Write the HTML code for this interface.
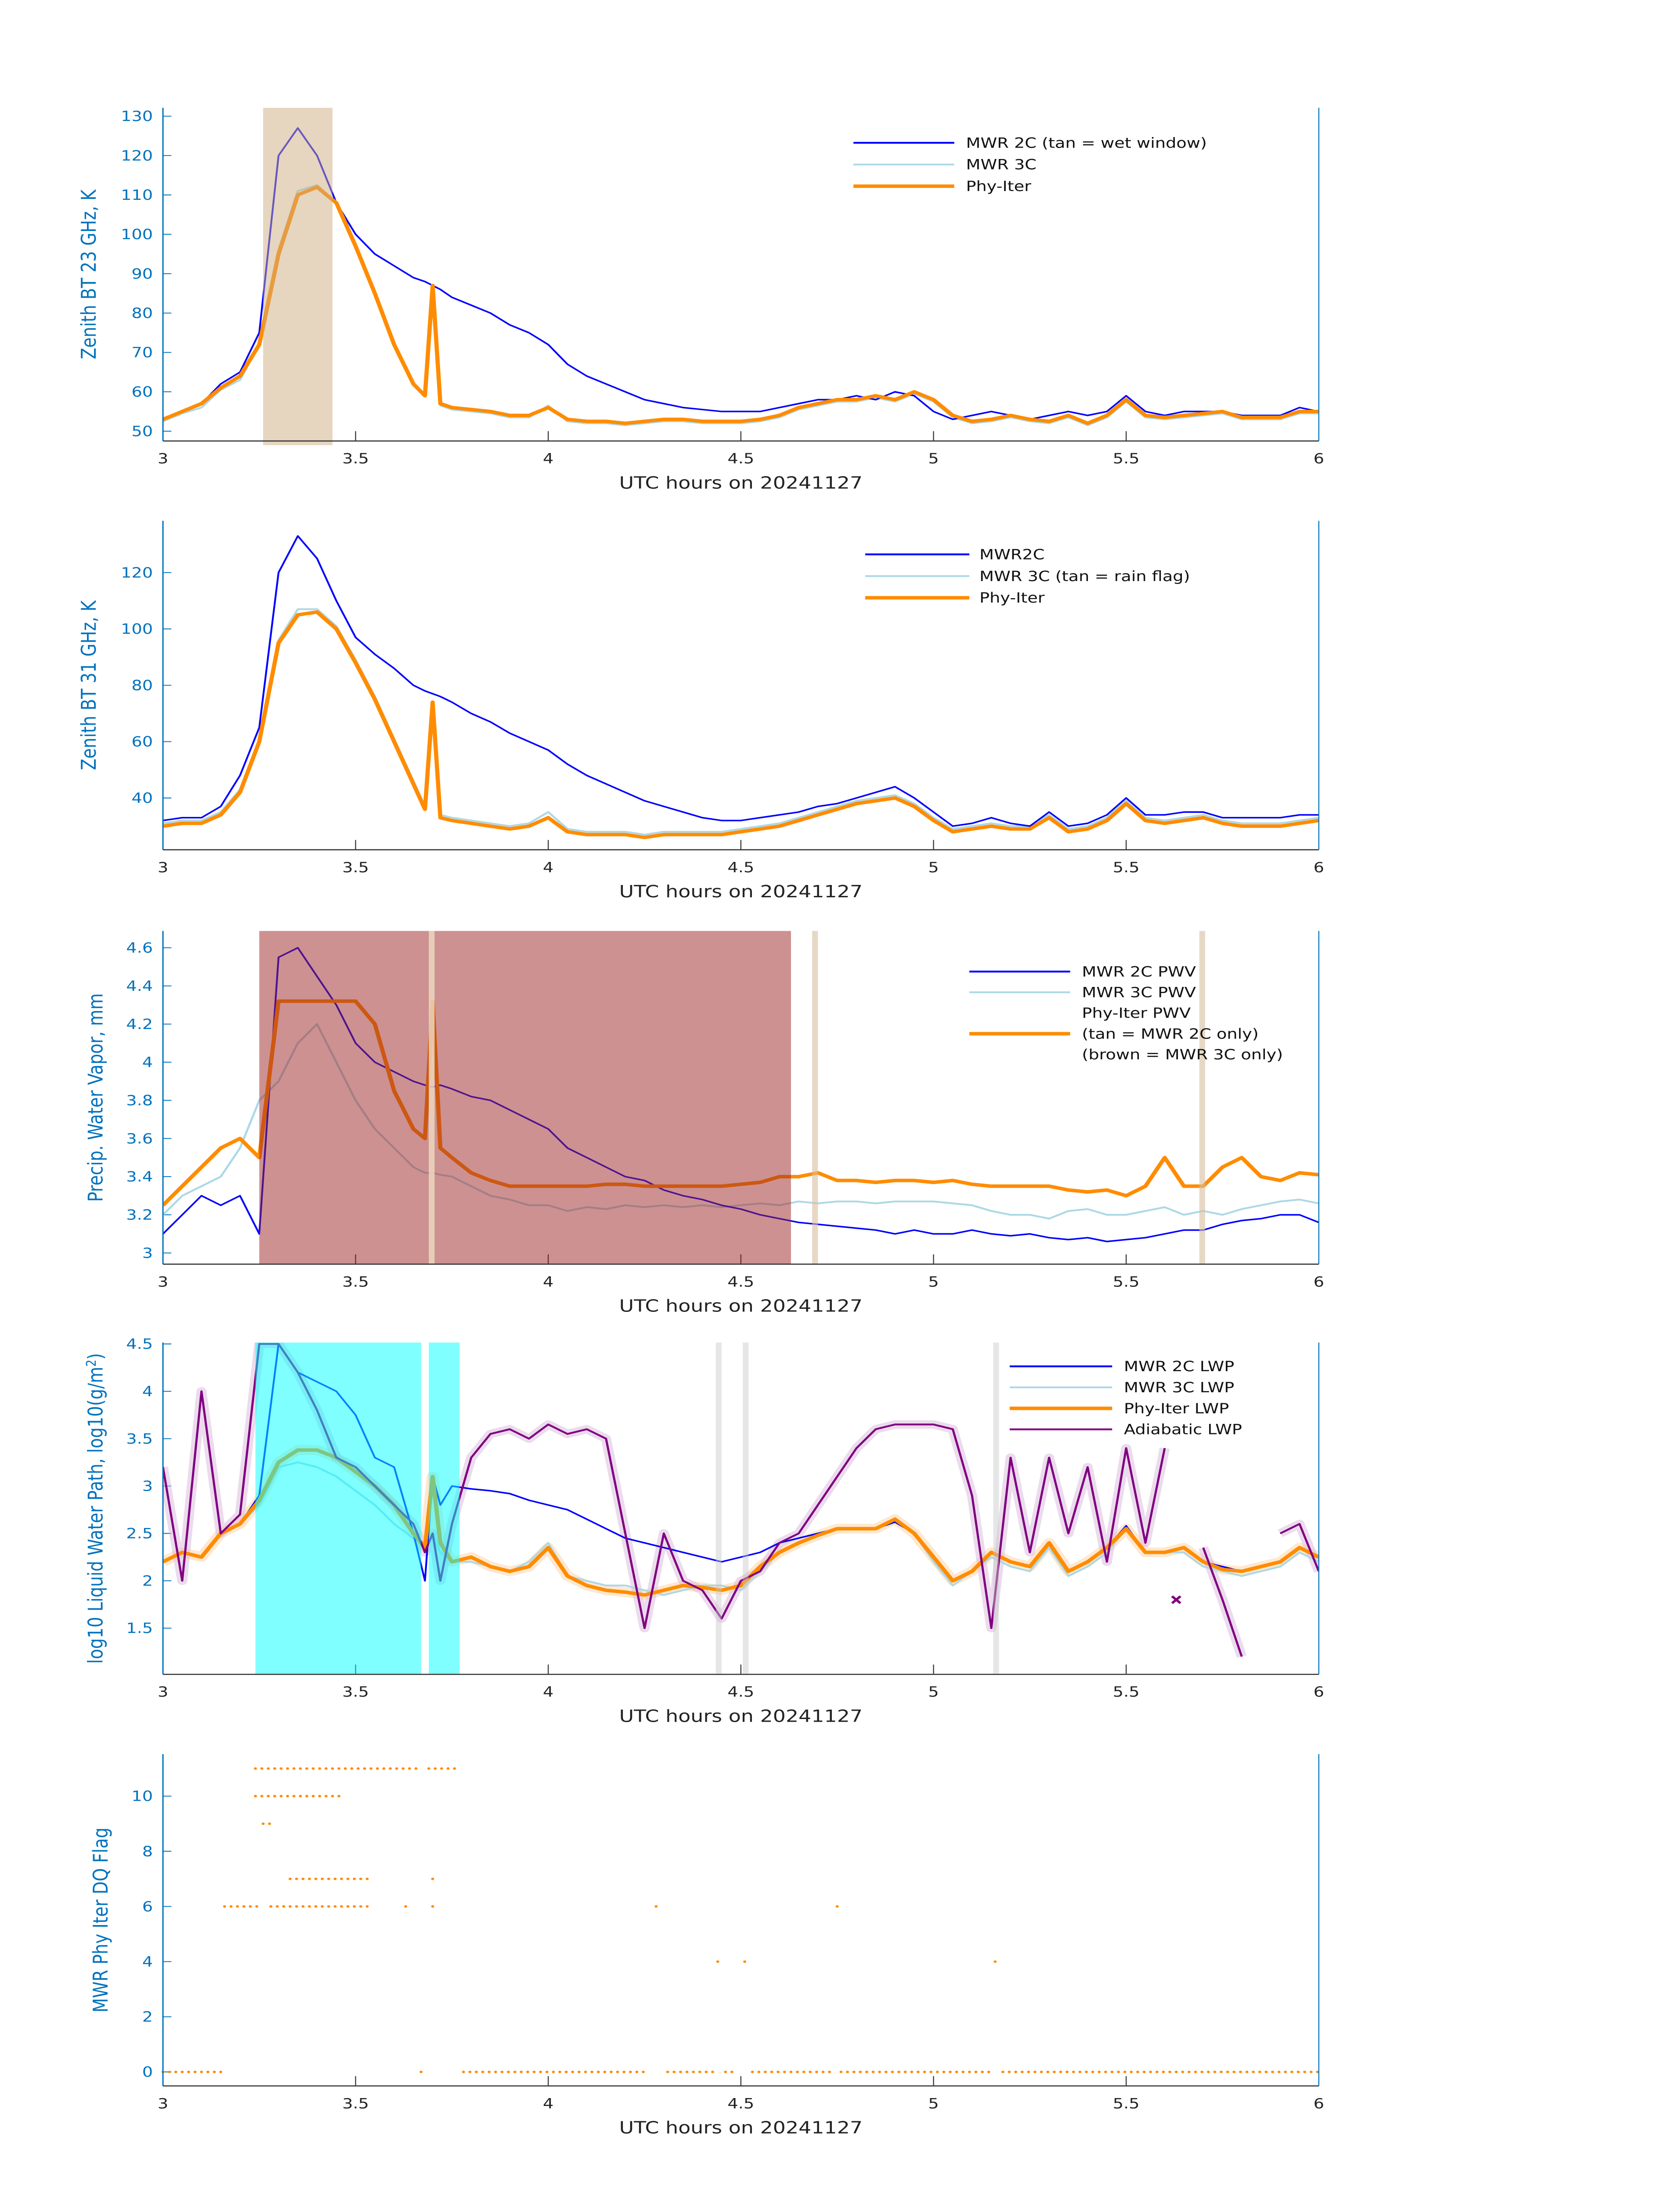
<!DOCTYPE html>
<html><head><meta charset="utf-8"><style>
html,body{margin:0;padding:0;background:#fff;width:100vw;height:100vh;overflow:hidden;}
svg{display:block;position:absolute;left:0;top:0;width:100vw;height:100vh;font-family:"DejaVu Sans","Liberation Sans",sans-serif;}
</style></head><body>
<svg id="fig" xmlns="http://www.w3.org/2000/svg" viewBox="0 0 1000 1568.63" preserveAspectRatio="none" overflow="hidden"></svg>
<script>
// ---- data ----
const T=[3.00,3.05,3.10,3.15,3.20,3.25,3.30,3.35,3.40,3.45,3.50,3.55,3.60,3.65,3.68,3.70,3.72,3.75,3.80,3.85,3.90,3.95,4.00,4.05,4.10,4.15,4.20,4.25,4.30,4.35,4.40,4.45,4.50,4.55,4.60,4.65,4.70,4.75,4.80,4.85,4.90,4.95,5.00,5.05,5.10,5.15,5.20,5.25,5.30,5.35,5.40,5.45,5.50,5.55,5.60,5.65,5.70,5.75,5.80,5.85,5.90,5.95,6.00];
const bt23_2c=[53,55,57,62,65,75,120,127,120,108,100,95,92,89,88,87,86,84,82,80,77,75,72,67,64,62,60,58,57,56,55.5,55,55,55,56,57,58,58,59,58,60,59,55,53,54,55,54,53,54,55,54,55,59,55,54,55,55,55,54,54,54,56,55];
const bt23_3c=[52.5,54.5,56,60.5,63,72,96,111,112.5,108,97,85,72,62,59,86,56.5,55.5,55,54.5,53.5,53.5,56.5,52.5,52,52,51.5,52,52.5,52.5,52,52,52,52.5,53.5,55.5,56.5,57.5,57.5,58.5,57.5,59.5,57.5,53.5,52,52.5,53.5,52.5,52,53.5,51.5,53.5,57.5,53.5,53,53.5,54,54.5,53,53,53,54.5,54.5];
const bt23_phy=[53,55,57,61,64,72,95,110,112,108,97,85,72,62,59,87,57,56,55.5,55,54,54,56,53,52.5,52.5,52,52.5,53,53,52.5,52.5,52.5,53,54,56,57,58,58,59,58,60,58,54,52.5,53,54,53,52.5,54,52,54,58,54,53.5,54,54.5,55,53.5,53.5,53.5,55,55];
const bt31_2c=[32,33,33,37,48,65,120,133,125,110,97,91,86,80,78,77,76,74,70,67,63,60,57,52,48,45,42,39,37,35,33,32,32,33,34,35,37,38,40,42,44,40,35,30,31,33,31,30,35,30,31,34,40,34,34,35,35,33,33,33,33,34,34];
const bt31_3c=[31,32,32,35,43,61,96,107,107,101,89,76,61,46,37,73,34,33,32,31,30,31,35,29,28,28,28,27,28,28,28,28,29,30,31,33,35,37,39,40,41,38,33,29,30,31,30,30,34,29,30,33,39,33,32,33,34,32,31,31,31,32,33];
const bt31_phy=[30,31,31,34,42,60,95,105,106,100,88,75,60,45,36,74,33,32,31,30,29,30,33,28,27,27,27,26,27,27,27,27,28,29,30,32,34,36,38,39,40,37,32,28,29,30,29,29,33,28,29,32,38,32,31,32,33,31,30,30,30,31,32];
const pwv_2c=[3.1,3.2,3.3,3.25,3.3,3.1,4.55,4.6,4.45,4.3,4.1,4.0,3.95,3.9,3.88,3.87,3.88,3.86,3.82,3.8,3.75,3.7,3.65,3.55,3.5,3.45,3.4,3.38,3.33,3.3,3.28,3.25,3.23,3.2,3.18,3.16,3.15,3.14,3.13,3.12,3.1,3.12,3.1,3.1,3.12,3.1,3.09,3.1,3.08,3.07,3.08,3.06,3.07,3.08,3.1,3.12,3.12,3.15,3.17,3.18,3.2,3.2,3.16];
const pwv_3c=[3.2,3.3,3.35,3.4,3.55,3.8,3.9,4.1,4.2,4.0,3.8,3.65,3.55,3.45,3.42,3.42,3.41,3.4,3.35,3.3,3.28,3.25,3.25,3.22,3.24,3.23,3.25,3.24,3.25,3.24,3.25,3.24,3.25,3.26,3.25,3.27,3.26,3.27,3.27,3.26,3.27,3.27,3.27,3.26,3.25,3.22,3.2,3.2,3.18,3.22,3.23,3.2,3.2,3.22,3.24,3.2,3.22,3.2,3.23,3.25,3.27,3.28,3.26];
const pwv_phy=[3.25,3.35,3.45,3.55,3.6,3.5,4.32,4.32,4.32,4.32,4.32,4.2,3.85,3.65,3.6,4.32,3.55,3.5,3.42,3.38,3.35,3.35,3.35,3.35,3.35,3.36,3.36,3.35,3.35,3.35,3.35,3.35,3.36,3.37,3.4,3.4,3.42,3.38,3.38,3.37,3.38,3.38,3.37,3.38,3.36,3.35,3.35,3.35,3.35,3.33,3.32,3.33,3.3,3.35,3.5,3.35,3.35,3.45,3.5,3.4,3.38,3.42,3.41];
const lwp_2c=[2.2,2.3,2.25,2.5,2.6,2.9,4.5,4.2,4.1,4.0,3.75,3.3,3.2,2.5,2.0,3.1,2.8,3.0,2.97,2.95,2.92,2.85,2.8,2.75,2.65,2.55,2.45,2.4,2.35,2.3,2.25,2.2,2.25,2.3,2.4,2.45,2.5,2.55,2.55,2.55,2.62,2.5,2.25,2.0,2.1,2.3,2.2,2.15,2.4,2.1,2.2,2.35,2.58,2.3,2.3,2.35,2.2,2.15,2.1,2.15,2.2,2.35,2.25];
const lwp_3c=[2.2,2.3,2.25,2.5,2.6,2.8,3.2,3.25,3.2,3.1,2.95,2.8,2.6,2.45,2.4,2.5,2.3,2.2,2.2,2.15,2.1,2.2,2.4,2.05,2.0,1.95,1.95,1.9,1.85,1.9,1.95,1.95,1.9,2.1,2.3,2.4,2.5,2.55,2.55,2.55,2.62,2.5,2.2,1.95,2.1,2.25,2.15,2.1,2.35,2.05,2.15,2.3,2.55,2.3,2.3,2.3,2.15,2.1,2.05,2.1,2.15,2.3,2.2];
const lwp_phy=[2.2,2.3,2.25,2.5,2.6,2.85,3.25,3.38,3.38,3.3,3.15,3.0,2.8,2.5,2.35,3.1,2.4,2.2,2.25,2.15,2.1,2.15,2.35,2.05,1.95,1.9,1.88,1.85,1.9,1.95,1.93,1.9,1.95,2.15,2.3,2.4,2.48,2.55,2.55,2.55,2.65,2.5,2.25,2.0,2.1,2.3,2.2,2.15,2.4,2.1,2.2,2.35,2.55,2.3,2.3,2.35,2.2,2.12,2.1,2.15,2.2,2.35,2.25];
const lwp_adi=[3.2,2.0,4.0,2.5,2.7,4.5,4.5,4.2,3.8,3.3,3.2,3.0,2.8,2.6,2.3,2.5,2.0,2.6,3.3,3.55,3.6,3.5,3.65,3.55,3.6,3.5,2.5,1.5,2.5,2.0,1.9,1.6,2.0,2.1,2.4,2.5,2.8,3.1,3.4,3.6,3.65,3.65,3.65,3.6,2.9,1.5,3.3,2.3,3.3,2.5,3.2,2.2,3.4,2.4,3.4,null,2.35,1.8,1.2,null,2.5,2.6,2.1];
const adiMarkT=[5.63]; const adiMarkV=[1.8];
const dqFlag=[11,11,10,9,7,7,6,6,6,6,6,6,4,4,4,0,0,0,0,0,0,0,0];
const dqStart=[3.24,3.69,3.24,3.26,3.33,3.70,3.16,3.28,3.63,3.70,4.28,4.75,4.44,4.51,5.16,3.0,3.67,3.78,4.31,4.46,4.53,4.76,5.18];
const dqEnd=[3.66,3.76,3.46,3.29,3.54,3.70,3.25,3.54,3.63,3.70,4.29,4.75,4.44,4.51,5.16,3.15,3.67,4.26,4.43,4.49,4.74,5.15,6.0];
const xTicks=[3,3.5,4,4.5,5,5.5,6];
const xTickLabels=["3","3.5","4","4.5","5","5.5","6"];
const p1Ticks=[50,60,70,80,90,100,110,120,130];
const p2Ticks=[40,60,80,100,120];
const p3Ticks=[3,3.2,3.4,3.6,3.8,4,4.2,4.4,4.6];
const p4Ticks=[1.5,2,2.5,3,3.5,4,4.5];
const p5Ticks=[0,2,4,6,8,10];

// ---- drawing ----
const svg=document.getElementById('fig');
const NS='http://www.w3.org/2000/svg';
function mk(tag,attrs,parent){const e=document.createElementNS(NS,tag);for(const k in attrs)e.setAttribute(k,attrs[k]);(parent||svg).appendChild(e);return e;}
const X0=97,X1=785;
function xs(t){return X0+(t-3)/3*(X1-X0);}
function yScale(v0,p0,v1,p1){return v=>p0+(v-v0)/(v1-v0)*(p1-p0);}
const BLUE='#0072bd';

function axes(id,top,bot,ys,ticks,fmt,ylabel,ylx){
  const g=mk('g',{});
  
  
  const cp=mk('clipPath',{id:id+'-clip'},svg);
  mk('rect',{x:X0,y:top,width:X1-X0,height:bot-top},cp);
  ticks.forEach(v=>{
    const y=ys(v);
    const tl=mk('line',{x1:X0,x2:X0+5,y1:y,y2:y,stroke:BLUE,'stroke-width':0.6},g);
    
    
    const tx=mk('text',{x:X0-6,y:y+3.5,'text-anchor':'end','font-size':10,fill:BLUE},g);
    
    
    tx.textContent=fmt(v);
  });
  xTicks.forEach((t,i)=>{
    const x=xs(t);
    if(i>0&&i<xTicks.length-1){const l=mk('line',{x1:x,x2:x,y1:bot,y2:bot-7,stroke:'#333','stroke-width':0.6},g);
      
      }
    const tx=mk('text',{x:x,y:bot+16,'text-anchor':'middle','font-size':10,fill:'#222'},g);
    
    
    tx.textContent=xTickLabels[i];
  });
  const xl=mk('text',{x:441,y:bot+34,'text-anchor':'middle','font-size':12,fill:'#222'},g);
  
  
  xl.textContent='UTC hours on 20241127';
  const cy=(top+bot)/2;
  const yl=mk('text',{x:ylx,y:cy,'text-anchor':'middle','font-size':12,fill:BLUE,transform:`rotate(-90 ${ylx} ${cy})`},g);
  
  
  if(typeof ylabel==='string')yl.textContent=ylabel;else ylabel(yl);
  return g;
}
function frame(top,bot){
  const a=mk('line',{x1:X0,x2:X0,y1:top,y2:bot,stroke:BLUE,'stroke-width':0.8});
  
  
  const b=mk('line',{x1:X0,x2:X1,y1:bot,y2:bot,stroke:'#333','stroke-width':0.8});
  
  
  const c=mk('line',{x1:X1,x2:X1,y1:top,y2:bot,stroke:BLUE,'stroke-width':0.6});
  
  
}
function series(id,vals,ys,color,w,name,opacity){
  let d='',pen=false;
  for(let i=0;i<T.length;i++){const v=vals[i];if(v===null){pen=false;continue;}
    d+=(pen?'L':'M')+xs(T[i]).toFixed(2)+' '+ys(v).toFixed(2);pen=true;}
  const p=mk('path',{d:d,fill:'none',stroke:color,'stroke-width':w,'stroke-linejoin':'round','clip-path':`url(#${id}-clip)`,opacity:opacity||1});
  
  
  return p;
}
function shade(id,t0,t1,top,bot,fill,name){
  const r=mk('rect',{x:xs(t0),y:top,width:xs(t1)-xs(t0),height:bot-top,fill:fill});
  
  
}
function legend(items,x0,x1,tx,y0,dy){
  const g=mk('g',{});
  
  
  items.forEach((it,i)=>{
    const y=y0+i*dy;
    if(it.c){const l=mk('line',{x1:x0,x2:x1,y1:y,y2:y,stroke:it.c,'stroke-width':it.w},g);
      
      }
    const t=mk('text',{x:tx,y:y+3.5,'font-size':10,fill:'#111'},g);
    
    
    t.textContent=it.t;
  });
}

// Panel 1
{const top=77,bot=315,ys=yScale(50,308,130,83);
 axes('p1',top,bot,ys,p1Ticks,v=>String(v),'Zenith BT 23 GHz, K',57);
 series('p1',bt23_3c,ys,'#add8e6',1.3,'mwr3c-bt23-line');
 series('p1',bt23_2c,ys,'#0000ff',1.1,'mwr2c-bt23-line');
 series('p1',bt23_phy,ys,'#ff8c00',2.5,'phyiter-bt23-line');
 shade('p1',3.26,3.44,top,bot+3,'rgba(205,172,128,0.5)','wet-window-shade');
 frame(top,bot);
 legend([{t:'MWR 2C (tan = wet window)',c:'#0000ff',w:1.3},{t:'MWR 3C',c:'#add8e6',w:1.3},{t:'Phy-Iter',c:'#ff8c00',w:2.5}],508,568,575,102,15.5);
}
// Panel 2
{const top=372,bot=607,ys=yScale(40,570,120,409);
 axes('p2',top,bot,ys,p2Ticks,v=>String(v),'Zenith BT 31 GHz, K',57);
 series('p2',bt31_3c,ys,'#add8e6',1.3,'mwr3c-bt31-line');
 series('p2',bt31_2c,ys,'#0000ff',1.1,'mwr2c-bt31-line');
 series('p2',bt31_phy,ys,'#ff8c00',2.5,'phyiter-bt31-line');
 frame(top,bot);
 legend([{t:'MWR2C',c:'#0000ff',w:1.3},{t:'MWR 3C (tan = rain flag)',c:'#add8e6',w:1.3},{t:'Phy-Iter',c:'#ff8c00',w:2.5}],515,577,583,396,15.5);
}
// Panel 3
{const top=665,bot=903,ys=yScale(3,895,4.6,677);
 axes('p3',top,bot,ys,p3Ticks,v=>String(+v.toFixed(1)),'Precip. Water Vapor, mm',61);
 series('p3',pwv_3c,ys,'#add8e6',1.3,'mwr3c-pwv-line');
 series('p3',pwv_2c,ys,'#0000ff',1.1,'mwr2c-pwv-line');
 series('p3',pwv_phy,ys,'#ff8c00',2.5,'phyiter-pwv-line');
 shade('p3',3.25,4.63,top,bot,'rgba(155,35,35,0.5)','mwr3c-only-shade');
 shade('p3',3.69,3.705,top,bot,'rgba(235,215,190,0.85)','mwr2c-only-shade');
 shade('p3',4.685,4.70,top,bot,'rgba(215,190,160,0.6)','mwr2c-only-shade');
 shade('p3',5.69,5.705,top,bot,'rgba(215,190,160,0.6)','mwr2c-only-shade');
 frame(top,bot);
 legend([{t:'MWR 2C PWV',c:'#0000ff',w:1.3},{t:'MWR 3C PWV',c:'#add8e6',w:1.3},{t:'Phy-Iter PWV'},{t:'(tan = MWR 2C only)',c:'#ff8c00',w:2.5},{t:'(brown = MWR 3C only)'}],577,637,644,694,14.8);
}
// Panel 4
{const top=959,bot=1196,ys=yScale(1.5,1163,4.5,960);
 axes('p4',top,bot,ys,p4Ticks,v=>String(v),yl=>{yl.textContent='log10 Liquid Water Path, log10(g/m';const s=mk('tspan',{'font-size':8,dy:-4},yl);s.textContent='2';const s2=mk('tspan',{dy:4},yl);s2.textContent=')';},61);
 series('p4',lwp_phy,ys,'#ffd9b0',7,'phyiter-lwp-band',0.6);
 series('p4',lwp_adi,ys,'#d8b8dc',6,'adiabatic-lwp-band',0.5);
 series('p4',lwp_3c,ys,'#add8e6',1.3,'mwr3c-lwp-line');
 series('p4',lwp_2c,ys,'#0000ff',1.1,'mwr2c-lwp-line');
 series('p4',lwp_phy,ys,'#ff8c00',2.5,'phyiter-lwp-line');
 series('p4',lwp_adi,ys,'#800080',1.3,'adiabatic-lwp-line');
 adiMarkT.forEach((t,i)=>{const x=xs(t),y=ys(adiMarkV[i]);
   const m=mk('path',{d:`M${x-2.5} ${y-2.5}L${x+2.5} ${y+2.5}M${x-2.5} ${y+2.5}L${x+2.5} ${y-2.5}`,stroke:'#800080','stroke-width':1.6});
   
   });
 shade('p4',3.24,3.67,top,bot,'rgba(0,255,255,0.5)','cyan-flag-shade');
 shade('p4',3.69,3.77,top,bot,'rgba(0,255,255,0.5)','cyan-flag-shade');
 shade('p4',4.435,4.45,top,bot,'rgba(200,200,200,0.45)','grey-flag-shade');
 shade('p4',4.505,4.52,top,bot,'rgba(200,200,200,0.45)','grey-flag-shade');
 shade('p4',5.155,5.17,top,bot,'rgba(200,200,200,0.45)','grey-flag-shade');
 frame(top,bot);
 legend([{t:'MWR 2C LWP',c:'#0000ff',w:1.3},{t:'MWR 3C LWP',c:'#add8e6',w:1.3},{t:'Phy-Iter LWP',c:'#ff8c00',w:2.5},{t:'Adiabatic LWP',c:'#800080',w:1.3}],601,662,669,976,15);
}
// Panel 5
{const top=1253,bot=1490,ys=yScale(0,1480,10,1283);
 axes('p5',top,bot,ys,p5Ticks,v=>String(v),'MWR Phy Iter DQ Flag',64);
 const step=1/60;
 for(let s=0;s<dqFlag.length;s++){
   for(let t=dqStart[s];t<=dqEnd[s]+1e-6;t+=step){
     const c=mk('circle',{cx:xs(t),cy:ys(dqFlag[s]),r:0.9,fill:'#ff8c00'});
     
     
   }
 }
 frame(top,bot);
}
</script>
</body></html>
